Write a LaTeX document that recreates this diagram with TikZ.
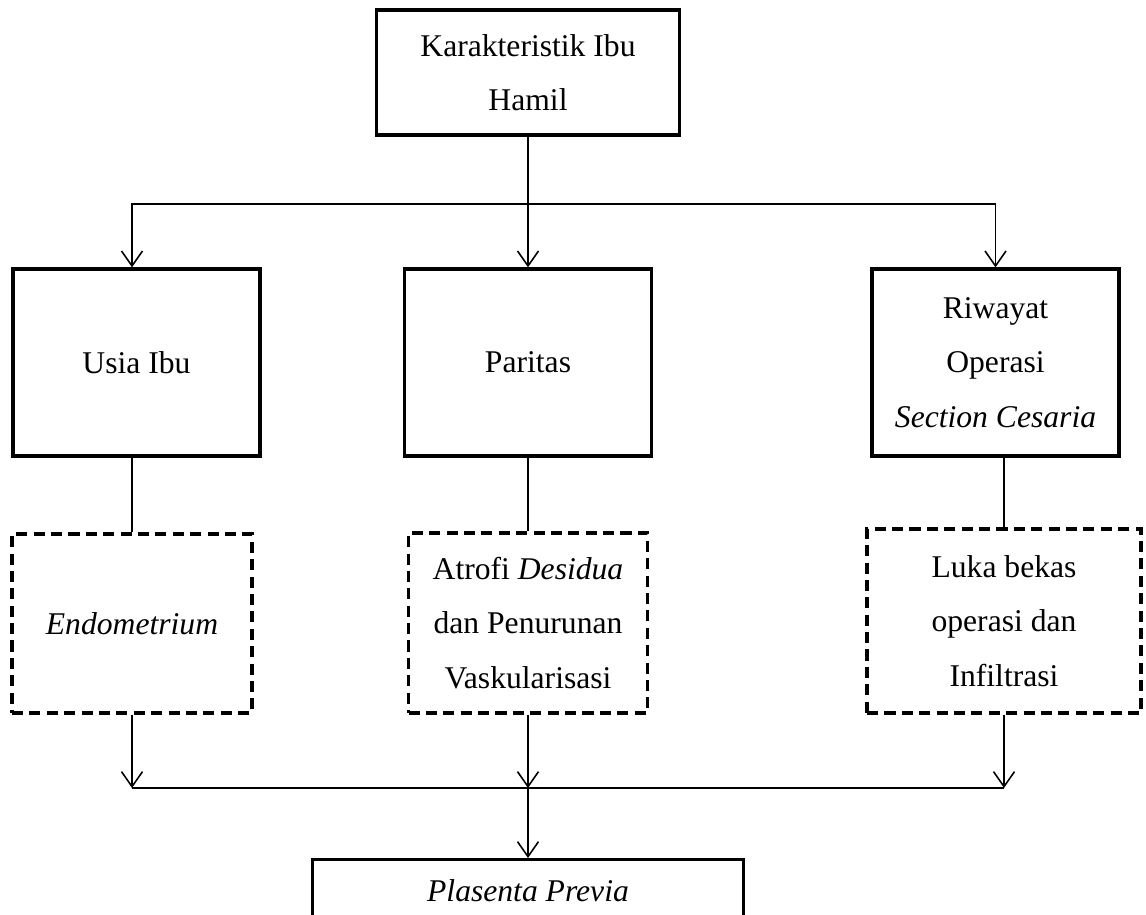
\documentclass[tikz,border=0pt]{standalone}
\usepackage{fontspec}
\setmainfont{Liberation Serif}
\usetikzlibrary{arrows.meta}

\begin{document}
\begin{tikzpicture}[x=0.02cm, y=-0.02cm,
	font=\fontsize{18pt}{31pt}\selectfont,
	>={Straight Barb[length=0.3cm, width=0.42cm]},
	box/.style={draw, line width=1.9pt, align=center, inner sep=2pt, minimum width=4.94cm, minimum height=3.74cm},
	dashbox/.style={draw, line width=1.9pt, dash pattern=on 6.3pt off 3.6pt, align=center, inner sep=2pt},
	link/.style={line width=0.9pt}]
	\useasboundingbox (0,0) rectangle (1146,914);
	% boxes
	\node[box, minimum width=6.06cm, minimum height=2.5cm] (ibu) at (528,72.5) {Karakteristik Ibu\\Hamil};
	\node[box] (usia) at (136.5,362.5) {Usia Ibu};
	\node[box] (paritas) at (528,362.5) {Paritas};
	\node[box] (riwayat) at (995.5,362.5) {Riwayat\\Operasi\\\textit{Section Cesaria}};
	\node[dashbox, minimum width=4.8cm, minimum height=3.58cm] (endo) at (132,623.5) {\textit{Endometrium}};
	\node[dashbox, minimum width=4.78cm, minimum height=3.6cm] (atrofi) at (528,623) {Atrofi \textit{Desidua}\\dan Penurunan\\Vaskularisasi};
	\node[dashbox, minimum width=5.48cm, minimum height=3.68cm] (luka) at (1004,621) {Luka bekas\\operasi dan\\Infiltrasi};
	\node[box, anchor=north, minimum width=8.62cm, minimum height=1.24cm] (plasenta) at (528,858) {\textit{Plasenta Previa}};
	% connectors
	\coordinate (cabang) at (528,204);
	\coordinate (gabung) at (528,788);
	\draw[link] (ibu) -- (cabang);
	\draw[link, ->] (cabang) -| (endo |- usia.north);
	\draw[link, ->] (cabang) -- (paritas);
	\draw[link, ->] (cabang) -| (riwayat);
	\draw[link] (endo.north) -- (endo.north |- usia.south);
	\draw[link] (atrofi.north) -- (atrofi.north |- paritas.south);
	\draw[link] (luka.north) -- (luka.north |- riwayat.south);
	\draw[link, ->] (endo) -- (endo |- gabung);
	\draw[link, ->] (atrofi) -- (atrofi |- gabung);
	\draw[link, ->] (luka) -- (luka |- gabung);
	\draw[link] (endo |- gabung) -- (luka |- gabung);
	\draw[link, ->] (gabung) -- (plasenta);
\end{tikzpicture}
\end{document}
